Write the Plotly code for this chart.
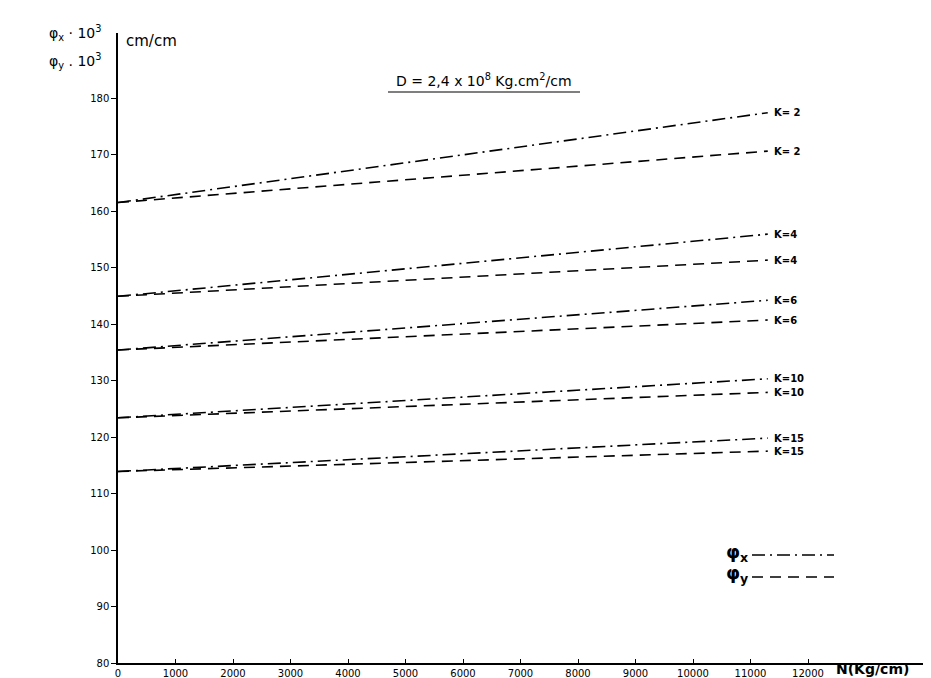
import plotly.graph_objects as go

# ---- data ----
k_values = [2, 4, 6, 10, 15]
k_labels = ["K= 2", "K=4", "K=6", "K=10", "K=15"]
n_points = [0, 11300]                      # N (Kg/cm) at line start / end
phi_start = [161.5, 144.9, 135.4, 123.4, 113.9]
phix_end = [177.4, 155.9, 144.2, 130.3, 119.8]
phiy_end = [170.6, 151.3, 140.7, 127.9, 117.5]
x_ticks = [0, 1000, 2000, 3000, 4000, 5000, 6000, 7000, 8000, 9000, 10000, 11000, 12000]
y_ticks = [80, 90, 100, 110, 120, 130, 140, 150, 160, 170, 180]

W, H = 931, 678
L, R, T, B = 110, 930, 25, 655
def px(x):
    return (x - L) / (R - L)
def py(y):
    return (B - y) / (B - T)

FONT = "DejaVu Sans"
DASHDOT = "13px,5px,2px,5px"
DASH = "11px,7px"
fig = go.Figure()

for lab, s, ex, ey in zip(k_labels, phi_start, phix_end, phiy_end):
    fig.add_trace(go.Scatter(x=n_points, y=[s, ex], mode="lines",
                             line=dict(color="black", width=1.6, dash=DASHDOT),
                             showlegend=False, hoverinfo="skip"))
    fig.add_trace(go.Scatter(x=n_points, y=[s, ey], mode="lines",
                             line=dict(color="black", width=1.6, dash=DASH),
                             showlegend=False, hoverinfo="skip"))
    for v in (ex, ey):
        fig.add_annotation(x=n_points[-1] + 80, y=v, xref="x", yref="y",
                           text=f"<b>{lab}</b>", showarrow=False, xanchor="left",
                           yanchor="middle", font=dict(family=FONT, size=10, color="black"))

def label(x, y, text, size, xanchor="center"):
    fig.add_annotation(x=px(x), y=py(y), xref="paper", yref="paper", xanchor=xanchor,
                       yanchor="middle", text=text, showarrow=False,
                       font=dict(family=FONT, size=size, color="black"))

# titles / labels
label(476, 72, "D = 2,4 x 10<sup>8</sup> Kg.cm<sup>2</sup>/cm", 14)
fig.add_shape(type="line", xref="paper", yref="paper", x0=px(380), x1=px(572),
              y0=py(84), y1=py(84), line=dict(color="black", width=1.2))
label(95, 25, "φ<sub>x</sub> · 10<sup>3</sup>", 14, "right")
label(95, 53, "φ<sub>y</sub> . 10<sup>3</sup>", 14, "right")
label(116, 33, "cm/cm", 15, "left")
label(826, 661, "<b>N(Kg/cm)</b>", 14, "left")

# legend drawn by hand
label(742, 545, "<b>φ<sub>x</sub></b>", 18, "right")
label(742, 566, "<b>φ<sub>y</sub></b>", 18, "right")
fig.add_shape(type="line", xref="paper", yref="paper", x0=px(744), x1=px(826),
              y0=py(547), y1=py(547), line=dict(color="black", width=1.6, dash=DASHDOT))
fig.add_shape(type="line", xref="paper", yref="paper", x0=px(744), x1=px(826),
              y0=py(569), y1=py(569), line=dict(color="black", width=1.6, dash=DASH))

fig.update_layout(
    width=W, height=H, margin=dict(l=L, r=W - R, t=T, b=H - B),
    paper_bgcolor="white", plot_bgcolor="white", showlegend=False,
    font=dict(family=FONT, size=10, color="black"),
    xaxis=dict(range=[0, (R - L) / 57.5 * 1000], tickvals=x_ticks,
               ticktext=[str(v) for v in x_ticks], showgrid=False, zeroline=False,
               showline=True, linecolor="black", linewidth=1.5, ticks="inside",
               ticklen=4, tickcolor="black", tickfont=dict(family=FONT, size=10)),
    yaxis=dict(range=[80, 80 + (B - T) / 5.65], tickvals=y_ticks,
               ticktext=[str(v) for v in y_ticks], showgrid=False, zeroline=False,
               showline=True, linecolor="black", linewidth=1.5, ticks="outside",
               ticklen=5, tickcolor="black", tickfont=dict(family=FONT, size=10)),
)

fig.write_html("out.html")
